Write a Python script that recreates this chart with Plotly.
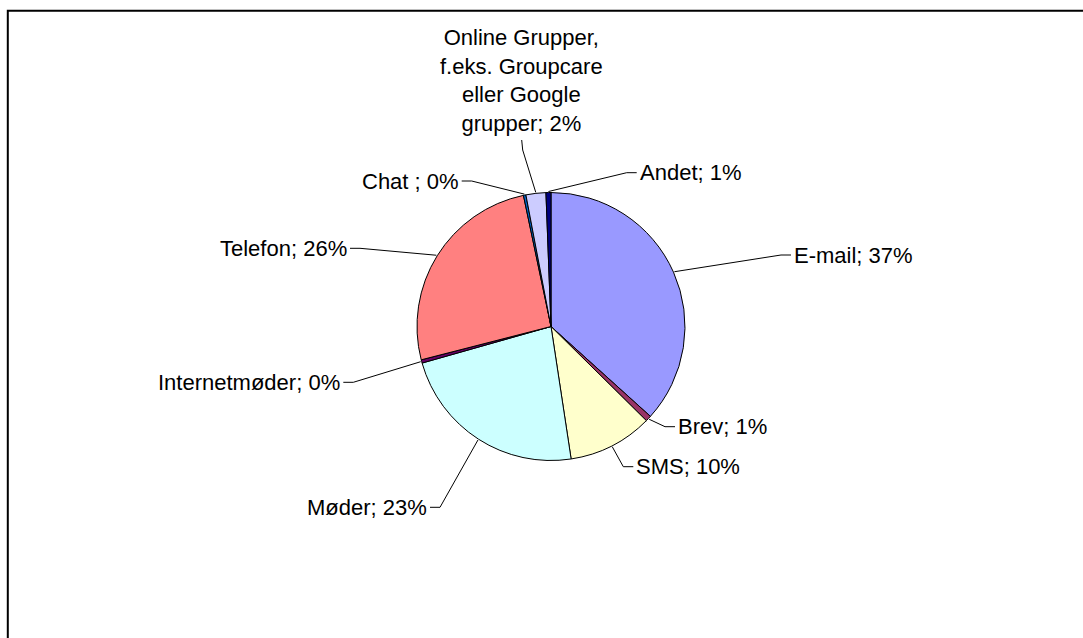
import math
import textwrap
import plotly.graph_objects as go

W, H = 1083, 638

# Communication channels, shares in percent (clockwise from 12 o'clock)
categories = [
    "E-mail", "Brev", "SMS", "Møder", "Internetmøder", "Telefon", "Chat ",
    "Online Grupper, f.eks. Groupcare eller Google grupper", "Andet",
]
shares = [36.7, 0.7, 10.2, 23.0, 0.4, 25.7, 0.3, 2.4, 0.6]
colors = [
    "#9999FF", "#993366", "#FFFFCC", "#CCFFFF", "#660066",
    "#FF8080", "#0066CC", "#CCCCFF", "#000080",
]

# Pie geometry in page pixels
CX, CY, R = 551.0, 326.5, 134.0

# Where each label sits: end of leader line next to the text and the side
# on which the text is placed ("r" = text right of the line, "l" = left, "t" = above)
label_ends = [
    (791.0, 255.0, "r"),
    (675.0, 426.7, "r"),
    (633.3, 466.7, "r"),
    (430.0, 507.3, "l"),
    (343.3, 382.3, "l"),
    (350.0, 248.3, "l"),
    (461.7, 181.0, "l"),
    (521.7, 140.0, "t"),
    (636.7, 172.7, "r"),
]
SEG = 10.0
FONT = dict(family="Liberation Sans, Arial, sans-serif", size=22, color="#000000")

total = sum(shares)

fig = go.Figure()

fig.add_trace(go.Pie(
    labels=categories,
    values=shares,
    sort=False,
    direction="clockwise",
    rotation=0,
    marker=dict(colors=colors, line=dict(color="#000000", width=1)),
    textinfo="none",
    hoverinfo="label+percent",
    showlegend=False,
    domain=dict(
        x=[(CX - R) / W, (CX + R) / W],
        y=[(H - CY - R) / H, (H - CY + R) / H],
    ),
))

# Leader lines from each slice edge (at its mid-angle) to its label
lx, ly = [], []
annotations = []
cum = 0.0
for name, v, (ex, ey, side) in zip(categories, shares, label_ends):
    mid = (cum + v / 2) / total * 2 * math.pi
    cum += v
    px = CX + (R + 1) * math.sin(mid)
    py = CY - (R + 1) * math.cos(mid)
    if side == "r":
        elbow = (ex - SEG, ey)
    elif side == "l":
        elbow = (ex + SEG, ey)
    else:
        elbow = (ex + 1, ey + SEG)
    lx += [px, elbow[0], ex, None]
    ly += [py, elbow[1], ey, None]

    text = f"{name}; {round(v):.0f}%"
    if side == "t":
        text = "<br>".join(textwrap.wrap(text, 16))
        annotations.append(dict(x=ex, y=ey - 2, xref="x", yref="y", text=text,
                                showarrow=False, xanchor="center", yanchor="bottom",
                                align="center", font=FONT))
    elif side == "r":
        annotations.append(dict(x=ex + 1, y=ey, xref="x", yref="y", text=text,
                                showarrow=False, xanchor="left", yanchor="middle",
                                font=FONT))
    else:
        annotations.append(dict(x=ex - 1, y=ey, xref="x", yref="y", text=text,
                                showarrow=False, xanchor="right", yanchor="middle",
                                font=FONT))

fig.add_trace(go.Scatter(
    x=lx, y=ly, mode="lines",
    line=dict(color="#000000", width=1),
    hoverinfo="skip", showlegend=False,
))

fig.update_layout(
    width=W, height=H,
    margin=dict(l=0, r=0, t=0, b=0),
    paper_bgcolor="#FFFFFF",
    plot_bgcolor="#FFFFFF",
    xaxis=dict(range=[0, W], visible=False, fixedrange=True),
    yaxis=dict(range=[H, 0], visible=False, fixedrange=True),
    annotations=annotations,
    shapes=[dict(type="rect", xref="x", yref="y", x0=7.8, y0=10.8, x1=W + 20, y1=H + 20,
                 line=dict(color="#000000", width=2), fillcolor="rgba(0,0,0,0)")],
    font=FONT,
)

fig.write_html("out.html")
